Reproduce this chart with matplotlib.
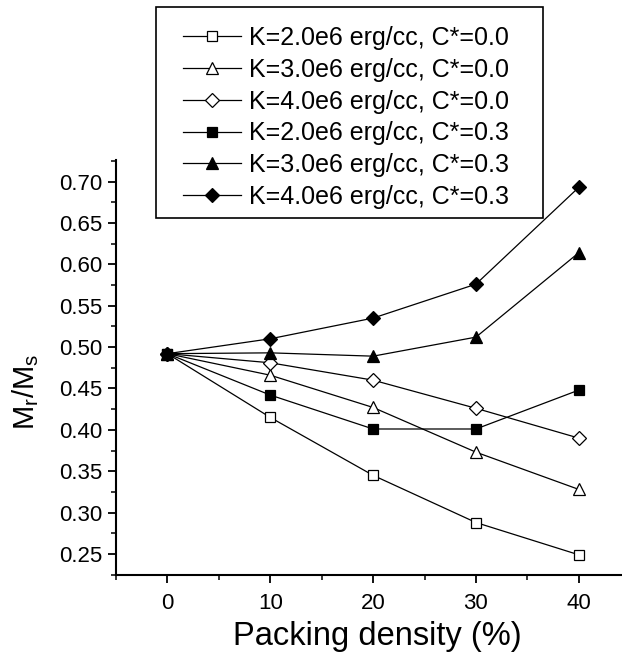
import matplotlib
matplotlib.use("Agg")
import matplotlib.pyplot as plt
from matplotlib.ticker import MultipleLocator, FormatStrFormatter
from matplotlib.patches import Rectangle

plt.rcParams['font.family'] = ['Liberation Sans', 'DejaVu Sans']

packing = [0, 10, 20, 30, 40]
k2_c0 = [0.492, 0.415, 0.345, 0.288, 0.249]
k3_c0 = [0.492, 0.466, 0.427, 0.373, 0.328]
k4_c0 = [0.492, 0.481, 0.460, 0.426, 0.390]
k2_c3 = [0.492, 0.442, 0.401, 0.401, 0.448]
k3_c3 = [0.492, 0.493, 0.489, 0.512, 0.614]
k4_c3 = [0.492, 0.510, 0.535, 0.576, 0.693]
labels = ["K=2.0e6 erg/cc, C*=0.0", "K=3.0e6 erg/cc, C*=0.0",
          "K=4.0e6 erg/cc, C*=0.0", "K=2.0e6 erg/cc, C*=0.3",
          "K=3.0e6 erg/cc, C*=0.3", "K=4.0e6 erg/cc, C*=0.3"]

series = [k2_c0, k3_c0, k4_c0, k2_c3, k3_c3, k4_c3]
markers = ['s', '^', 'D', 's', '^', 'D']
fills = ['white', 'white', 'white', 'black', 'black', 'black']
msizes = [7, 8.5, 7, 7, 8.5, 7]

W, H = 622, 658
fig = plt.figure(figsize=(W/100, H/100), dpi=100)
ax = fig.add_axes([116/W, 1-575/H, 1-116/W, (575-160)/H])

handles = []
for ys, m, fc, ms, lab in zip(series, markers, fills, msizes, labels):
    h, = ax.plot(packing, ys, color='black', lw=0.9, marker=m, ms=ms,
                 mfc=fc, mec='black', mew=0.9, label=lab)
    handles.append(h)

ax.set_xlim(-5, 44.2)
ax.set_ylim(0.2246, 0.726)
ax.set_xticks(packing)
ax.xaxis.set_minor_locator(MultipleLocator(5))
ax.yaxis.set_major_locator(MultipleLocator(0.05))
ax.yaxis.set_minor_locator(MultipleLocator(0.025))
ax.yaxis.set_major_formatter(FormatStrFormatter('%.2f'))
for s in ['top', 'right']:
    ax.spines[s].set_visible(False)
for s in ['left', 'bottom']:
    ax.spines[s].set_linewidth(1.5)
ax.tick_params(which='major', direction='out', length=6, width=1.3, labelsize=16)
ax.tick_params(which='minor', direction='out', length=3.5, width=1.1)
ax.tick_params(axis='x', pad=7)

ax.set_xlabel('Packing density (%)', fontsize=23.5)
ax.xaxis.label.set_va('center')
ax.xaxis.set_label_coords((377.5-116)/506, (575-636)/415)
ax.set_ylabel(r'M$_\mathregular{r}$/M$_\mathregular{s}$', fontsize=21)
ax.yaxis.label.set_va('center')
ax.yaxis.label.set_ha('center')
ax.yaxis.set_label_coords((26-116)/506, (575-392)/415)

# legend frame
fig.patches.append(Rectangle((156/W, 1-218/H), (543-156)/W, (218-7)/H,
                             transform=fig.transFigure, fill=True,
                             facecolor='white', edgecolor='black', lw=1.2,
                             zorder=5))
leg = fig.legend(handles=handles, loc='upper left',
                 bbox_to_anchor=(183/W, 1-26/H), fontsize=18,
                 frameon=False, handlelength=2.3, handletextpad=0.35,
                 labelspacing=0.31, borderpad=0, borderaxespad=0)
leg.set_zorder(6)

fig.savefig('out.png', dpi=100)
